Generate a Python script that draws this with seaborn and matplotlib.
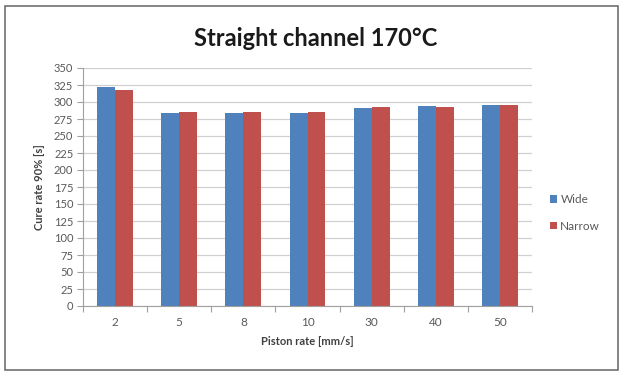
import matplotlib
matplotlib.use("Agg")
import matplotlib.pyplot as plt
import seaborn as sns
import pandas as pd
import numpy as np
from matplotlib.patches import Rectangle

categories = ["2", "5", "8", "10", "30", "40", "50"]
wide = [322, 284, 284, 284, 291, 294, 296]
narrow = [317, 285, 285, 286, 292, 293, 296]
series = ["Wide", "Narrow"]
yticks = list(range(0, 351, 25))

df = pd.DataFrame({
    "cat": categories * 2,
    "val": wide + narrow,
    "series": ["Wide"] * len(categories) + ["Narrow"] * len(categories),
})

sns.set_theme(style="white")
plt.rcParams['font.family'] = ['Lato', 'DejaVu Sans']

W, H = 622, 373
fig = plt.figure(figsize=(W / 100, H / 100), dpi=100)
ax = fig.add_axes([83 / W, 1 - 306 / H, (532 - 83) / W, (306 - 68) / H])

palette = {"Wide": "#4F81BD", "Narrow": "#C0504D"}
sns.barplot(data=df, x="cat", y="val", hue="series", order=categories,
            hue_order=series, palette=palette, width=0.56, ax=ax,
            saturation=1, edgecolor="none", legend=True)

ax.set_ylim(0, 350)
ax.set_xlim(-0.5, len(categories) - 0.5)
ax.set_yticks(yticks)
ax.set_yticklabels([str(t) for t in yticks], fontsize=8, color="#595959")
ax.set_xticks(range(len(categories)))
ax.set_xticklabels(categories, fontsize=8.5, color="#595959")
ax.yaxis.grid(True, color="#d0d0d0", linewidth=0.9)
ax.set_axisbelow(True)
ax.tick_params(axis="y", length=4, color="#a0a0a0", width=0.8, pad=3, left=True)
ax.tick_params(axis="x", length=0, pad=8)
ax.set_xticks(np.arange(-0.5, len(categories), 1.0), minor=True)
ax.tick_params(axis="x", which="minor", length=4, color="#a0a0a0", width=0.8, bottom=True)
for s in ["top", "right"]:
    ax.spines[s].set_visible(False)
for s in ["left", "bottom"]:
    ax.spines[s].set_color("#a0a0a0")
    ax.spines[s].set_linewidth(0.8)

ax.set_xlabel("Piston rate [mm/s]", fontsize=8, fontweight="bold", color="#404040", labelpad=6)
ax.set_ylabel("Cure rate 90% [s]", fontsize=8, fontweight="bold", color="#404040", labelpad=6)

fig.text(316 / W, 1 - 38 / H, "Straight channel 170°C", ha="center", va="center",
         fontsize=17, fontweight="bold", color="#1a1a1a")

leg = ax.legend(loc="center left", bbox_to_anchor=(545 / W, 1 - 213 / H),
                bbox_transform=fig.transFigure, frameon=False, fontsize=8.5,
                handlelength=0.6, handleheight=0.6, handletextpad=0.3,
                labelspacing=1.3, borderaxespad=0)
for t in leg.get_texts():
    t.set_color("#595959")

fig.patches.append(Rectangle((5 / W, 1 - 370 / H), (618 - 5) / W, (370 - 6) / H,
                             transform=fig.transFigure, fill=False,
                             edgecolor="#707070", linewidth=1.2))

fig.savefig("out.png", dpi=100)
